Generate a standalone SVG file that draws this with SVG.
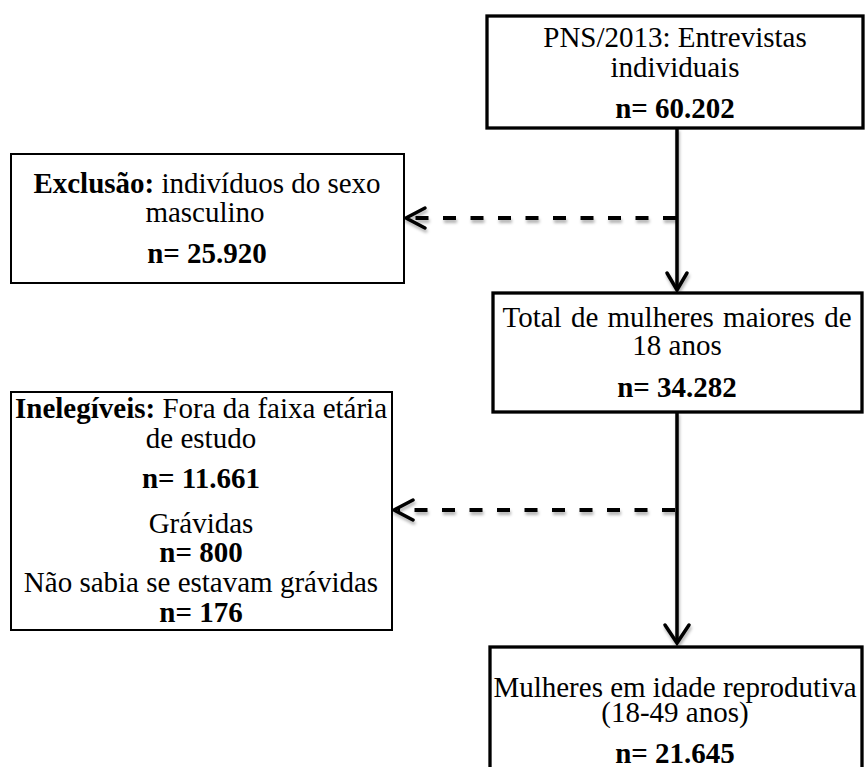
<svg xmlns="http://www.w3.org/2000/svg" width="865" height="767" viewBox="0 0 865 767">
<style>
.box{fill:#fff;stroke:#000}
.thick{stroke-width:3.3}
.thin{stroke-width:2}
text{font-family:"Liberation Serif","Times New Roman",serif;font-size:29px;fill:#000;text-anchor:middle}
.b{font-weight:bold}
.solid{fill:none;stroke:#000;stroke-width:3.5}
.dash{fill:none;stroke:#000;stroke-width:4;stroke-dasharray:13 14.5}
.head{fill:none;stroke:#000;stroke-width:3.5;stroke-linecap:round;stroke-linejoin:miter}
</style>
<defs>
<filter id="sh" x="-10%" y="-50%" width="120%" height="200%">
<feDropShadow dx="1" dy="3" stdDeviation="1.5" flood-color="#000" flood-opacity="0.3"/>
</filter>
</defs>
<rect width="865" height="767" fill="#fff"/>
<g id="connectors" filter="url(#sh)">
<line class="solid" x1="677" y1="128" x2="677" y2="289"/>
<polyline class="head" points="667,273 677,290 687,273"/>
<line class="dash" x1="676" y1="218" x2="410" y2="218"/>
<polyline class="head" points="425,208 406,218 425,228"/>
<line class="solid" x1="677" y1="412" x2="677" y2="642"/>
<polyline class="head" points="665,625 677,643 689,625"/>
<line class="dash" x1="675" y1="510" x2="398" y2="510"/>
<polyline class="head" points="413,500 394,510 413,520"/>
</g>
<g id="n1">
<rect class="box thick" x="487" y="16" width="376" height="112"/>
<text x="675" y="47">PNS/2013: Entrevistas</text>
<text x="675" y="77">individuais</text>
<text x="675" y="118" class="b">n= 60.202</text>
</g>
<g id="n2">
<rect class="box thin" x="11" y="154" width="393" height="129"/>
<text x="207" y="193"><tspan class="b">Exclusão:</tspan> indivíduos do sexo</text>
<text x="205" y="222">masculino</text>
<text x="207" y="263" class="b">n= 25.920</text>
</g>
<g id="n3">
<rect class="box thick" x="493" y="293" width="369" height="119"/>
<text x="677" y="327" word-spacing="2">Total de mulheres maiores de</text>
<text x="677" y="355">18 anos</text>
<text x="677" y="397" class="b">n= 34.282</text>
</g>
<g id="n4">
<rect class="box thin" x="11" y="392" width="381" height="238"/>
<text x="201" y="418"><tspan class="b">Inelegíveis:</tspan> Fora da faixa etária</text>
<text x="201" y="448">de estudo</text>
<text x="201" y="488" class="b">n= 11.661</text>
<text x="201" y="533">Grávidas</text>
<text x="201" y="562" class="b">n= 800</text>
<text x="201" y="592">Não sabia se estavam grávidas</text>
<text x="201" y="622" class="b">n= 176</text>
</g>
<g id="n5">
<rect class="box thick" x="490" y="647" width="372" height="130"/>
<text x="675" y="697" font-size="29.5">Mulheres em idade reprodutiva</text>
<text x="675" y="722">(18-49 anos)</text>
<text x="675" y="763" class="b">n= 21.645</text>
</g>
</svg>
